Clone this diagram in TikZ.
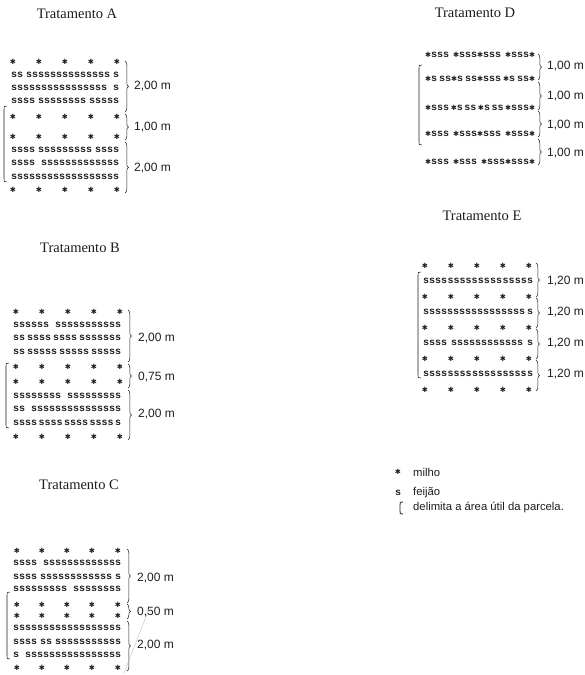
\documentclass[tikz,border=0pt]{standalone}
\usepackage{fontspec}
\setmainfont{Liberation Serif}
\newfontfamily\lsans{Liberation Sans}
\newfontfamily\tw{Liberation Mono}
\newfontfamily\djv{DejaVu Sans}
\usetikzlibrary{decorations.pathreplacing}
\definecolor{ink}{HTML}{1E1E1E}
\newcommand\st{{\djv\fontsize{7.2}{8}\selectfont ✱}}
\newcommand\g{\hfil}
\newlength\rowlen
\setlength\rowlen{108pt}
\newcommand\srowtxt[1]{\hbox to\rowlen{#1}}
\tikzset{
  ttl/.style={font=\fontsize{14.5}{16}\selectfont, inner sep=0pt, text=ink},
  lab/.style={font=\lsans\fontsize{12}{14}\selectfont, anchor=west, inner sep=0pt, text=ink},
  leg/.style={font=\lsans\fontsize{11.3}{13}\selectfont, anchor=west, inner sep=0pt, text=ink},
  srow/.style={font=\tw\bfseries\fontsize{10}{12}\selectfont, anchor=base west, inner sep=0pt, text=ink},
  starn/.style={font=\tw\bfseries\fontsize{10}{12}\selectfont, anchor=base, inner sep=0pt, text=ink},
  brc/.style={decorate, decoration={brace, amplitude=3.5pt}, line width=0.5pt, draw=ink},
  lbr/.style={line width=0.55pt, draw=ink},
}
\newcommand\usefulbr[3]{\draw[lbr] (#1+3,#2) .. controls (#1,#2) .. (#1,#2+4) -- (#1,#3-4) .. controls (#1,#3) .. (#1+3,#3);}
\begin{document}
\begin{tikzpicture}[x=1pt,y=-1pt]
\useasboundingbox[fill=white] (0,0) rectangle (585,675);

% ---------------- Tratamento A ----------------
\node[ttl] (tA) at (77,14) {Tratamento A};
\foreach \r/\y in {1/62,2/117,3/137,4/190}
  \foreach \c/\x in {1/13,2/39,3/65,4/91,5/117}
    \node[starn] (A-st\r-\c) at (\x,\y+2.5) {\st};
\node[srow] (A-s1) at (11,75+2.2)  {\srowtxt{ss\g ssssssssssssss\g s}};
\node[srow] (A-s2) at (11,88+2.2)  {\srowtxt{ssssssssssssssss\g s}};
\node[srow] (A-s3) at (11,101+2.2) {\srowtxt{ssss\g ssssssss\g sssss}};
\node[srow] (A-s4) at (11,150+2.2) {\srowtxt{ssss\g sssssssss\g ssss}};
\node[srow] (A-s5) at (11,163+2.2) {\srowtxt{ssss\g sssssssssssss}};
\node[srow] (A-s6) at (11,177+2.2) {\srowtxt{ssssssssssssssssss}};
\draw[brc] (125,61) -- (125,112);
\draw[brc] (125,114) -- (125,140);
\draw[brc] (125,142) -- (125,193);
\node[lab] (A-l1) at (134,86) {2,00 m};
\node[lab] (A-l2) at (134,127) {1,00 m};
\node[lab] (A-l3) at (134,168) {2,00 m};
\usefulbr{4}{106}{182}

% ---------------- Tratamento B ----------------
\node[ttl] (tB) at (80,248) {Tratamento B};
\foreach \r/\y in {1/312,2/367,3/382,4/437}
  \foreach \c/\x in {1/16,2/42,3/68,4/94,5/120}
    \node[starn] (B-st\r-\c) at (\x,\y+2.5) {\st};
\node[srow] (B-s1) at (13,325+2.2) {\srowtxt{ssssss\g sssssssssss}};
\node[srow] (B-s2) at (13,338+2.2) {\srowtxt{ss\g ssss\g ssss\g sssssss}};
\node[srow] (B-s3) at (13,352+2.2) {\srowtxt{ss\g sssss\g sssss\g sssss}};
\node[srow] (B-s4) at (13,396+2.2) {\srowtxt{ssssssss\g sssssssss}};
\node[srow] (B-s5) at (13,409+2.2) {\srowtxt{ss\g sssssssssssssss}};
\node[srow] (B-s6) at (13,423+2.2) {\srowtxt{ssss\g ssss\g ssss\g ssss\g s}};
\draw[brc] (128,310) -- (128,362);
\draw[brc] (128,364) -- (128,388);
\draw[brc] (128,390) -- (128,440);
\node[lab] (B-l1) at (138,338) {2,00 m};
\node[lab] (B-l2) at (138,377) {0,75 m};
\node[lab] (B-l3) at (138,414) {2,00 m};
\usefulbr{6}{363}{428}

% ---------------- Tratamento C ----------------
\node[ttl] (tC) at (79,485) {Tratamento C};
\foreach \r/\y in {1/551,2/605,3/616,4/668}
  \foreach \c/\x in {1/17,2/42,3/67,4/92,5/118}
    \node[starn] (C-st\r-\c) at (\x,\y+2.5) {\st};
\node[srow] (C-s1) at (13,563+2.2) {\srowtxt{ssss\g sssssssssssss}};
\node[srow] (C-s2) at (13,577+2.2) {\srowtxt{ssss\g ssssssssssss\g s}};
\node[srow] (C-s3) at (13,589+2.2) {\srowtxt{sssssssss\g ssssssss}};
\node[srow] (C-s4) at (13,628+2.2) {\srowtxt{ssssssssssssssssss}};
\node[srow] (C-s5) at (13,642+2.2) {\srowtxt{ssss\g ss\g sssssssssss}};
\node[srow] (C-s6) at (13,655+2.2) {\srowtxt{s\g ssssssssssssssss}};
\draw[brc] (127,549) -- (127,603);
\draw[brc] (127,604) -- (127,619);
\draw[brc] (127,621) -- (127,671);
\node[lab] (C-l1) at (137,578) {2,00 m};
\node[lab] (C-l2) at (137,612) {0,50 m};
\node[lab] (C-l3) at (137,645) {2,00 m};
\usefulbr{7}{592}{659}
\draw[gray!55, line width=0.35pt] (124,673) -- (149,609);

% ---------------- Tratamento D ----------------
\node[ttl] (tD) at (475,13) {Tratamento D};
\setlength\rowlen{110pt}
\node[srow] (D-r1) at (425,55+2.2)  {\srowtxt{\st sss\g\st sss\st sss\g\st sss\st}};
\node[srow] (D-r2) at (425,79+2.2)  {\srowtxt{\st s\g ss\st s\g ss\st sss\g\st s\g ss\st}};
\node[srow] (D-r3) at (425,108+2.2) {\srowtxt{\st sss\g\st s\g ss\g\st s\g ss\g\st sss\st}};
\node[srow] (D-r4) at (425,134+2.2) {\srowtxt{\st sss\g\st sss\st sss\g\st sss\st}};
\node[srow] (D-r5) at (425,162+2.2) {\srowtxt{\st sss\g\st sss\g\st sss\st sss\st}};
\draw[brc] (538,54) -- (538,80);
\draw[brc] (538,82) -- (538,110);
\draw[brc] (538,111) -- (538,137);
\draw[brc] (538,139) -- (538,165);
\node[lab] (D-l1) at (547,66) {1,00 m};
\node[lab] (D-l2) at (547,96) {1,00 m};
\node[lab] (D-l3) at (547,125) {1,00 m};
\node[lab] (D-l4) at (547,153) {1,00 m};
\usefulbr{419}{65}{145}

% ---------------- Tratamento E ----------------
\node[ttl] (tE) at (482,216) {Tratamento E};
\foreach \r/\y in {1/265.5,2/296.5,3/327.5,4/358.5,5/389.5}
  \foreach \c/\x in {1/425,2/451,3/477,4/503,5/529}
    \node[starn] (E-st\r-\c) at (\x,\y+2.5) {\st};
\node[srow] (E-s1) at (423,281+2.2) {\srowtxt{ssss\g sssss\g ss\g ss\g ss\g ss\g s}};
\node[srow] (E-s2) at (423,312+2.2) {\srowtxt{sssssssssssssssss\g s}};
\node[srow] (E-s3) at (423,343+2.2) {\srowtxt{ssss\g ssssssssssss\g s}};
\node[srow] (E-s4) at (423,374+2.2) {\srowtxt{ssss\g ssss\g ssss\g sssss\g s}};
\draw[brc] (536,263) -- (536,297);
\draw[brc] (536,298) -- (536,328);
\draw[brc] (536,329) -- (536,359);
\draw[brc] (536,360) -- (536,391);
\node[lab] (E-l1) at (547,281) {1,20 m};
\node[lab] (E-l2) at (547,312) {1,20 m};
\node[lab] (E-l3) at (547,343) {1,20 m};
\node[lab] (E-l4) at (547,374) {1,20 m};
\usefulbr{418}{272}{378}

% ---------------- Legend ----------------
\node[starn] (L-st) at (398,472+2.5) {\st};
\node[leg] (L-milho) at (413,472) {milho};
\node[starn] (L-s) at (398,493+2.2) {s};
\node[leg] (L-feijao) at (413,493) {feijão};
\draw[lbr, line width=0.8pt] (403,502) .. controls (400,502) .. (400,505) -- (400,511) .. controls (400,514) .. (403,514);
\node[leg] (L-delim) at (413,508) {delimita a área útil da parcela.};
\end{tikzpicture}
\end{document}
